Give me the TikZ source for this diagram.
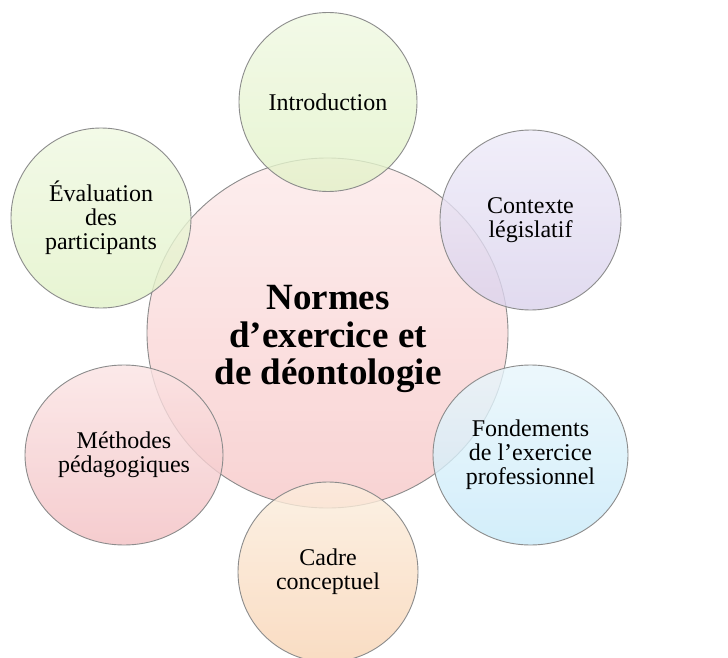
\documentclass[tikz,border=0pt]{standalone}
\usepackage{fontspec}
\setmainfont{Liberation Serif}
\usetikzlibrary{shapes.geometric}
\definecolor{bord}{RGB}{140,140,140}
\definecolor{pinkT}{RGB}{253,234,234}
\definecolor{pinkB}{RGB}{247,200,200}
\definecolor{greenT}{RGB}{240,249,226}
\definecolor{greenB}{RGB}{226,242,200}
\definecolor{lavT}{RGB}{238,235,249}
\definecolor{lavB}{RGB}{218,210,236}
\definecolor{cyanT}{RGB}{232,246,252}
\definecolor{cyanB}{RGB}{200,234,249}
\definecolor{peachT}{RGB}{252,238,222}
\definecolor{peachB}{RGB}{248,212,180}
\definecolor{roseT}{RGB}{251,228,228}
\definecolor{roseB}{RGB}{243,192,195}
\tikzset{
  bub/.style={ellipse, draw=bord, line width=0.9pt, inner sep=0pt,
    align=center, fill opacity=0.8, text opacity=1,
    font=\fontsize{24}{24}\selectfont},
  centre/.style={bub, top color=pinkT, bottom color=pinkB},
  centretext/.style={align=center, inner sep=0pt,
    font=\fontsize{37}{37.5}\selectfont\bfseries},
  greenbub/.style={bub, top color=greenT, bottom color=greenB},
  lavbub/.style={bub, top color=lavT, bottom color=lavB},
  cyanbub/.style={bub, top color=cyanT, bottom color=cyanB},
  peachbub/.style={bub, top color=peachT, bottom color=peachB},
  rosebub/.style={bub, top color=roseT, bottom color=roseB},
}
\begin{document}
\begin{tikzpicture}[x=1pt,y=-1pt]
\useasboundingbox (0,0) rectangle (728,658);
\fill[white] (0,0) rectangle (728,658);
\node[centre, minimum width=361pt, minimum height=350pt] (norm) at (327.5,333) {};
\node[centretext] (normtxt) at (328,339)
  {Normes\\d’exercice et\\de déontologie};
\node[greenbub, minimum width=178pt, minimum height=179pt] (intro) at (328,102)
  {Introduction};
\node[lavbub, minimum width=181pt, minimum height=180pt] (ctx) at (530.5,220)
  {Contexte\\législatif};
\node[cyanbub, minimum width=195pt, minimum height=180pt] (fond) at (530.5,455)
  {Fondements\\de l’exercice\\professionnel};
\node[peachbub, minimum width=180pt, minimum height=180pt] (cadre) at (328,572)
  {Cadre\\conceptuel};
\node[rosebub, minimum width=198pt, minimum height=180pt] (meth) at (124,455)
  {Méthodes\\pédagogiques};
\node[greenbub, minimum width=180pt, minimum height=180pt] (eval) at (101,218)
  {Évaluation\\des\\participants};
\end{tikzpicture}
\end{document}
